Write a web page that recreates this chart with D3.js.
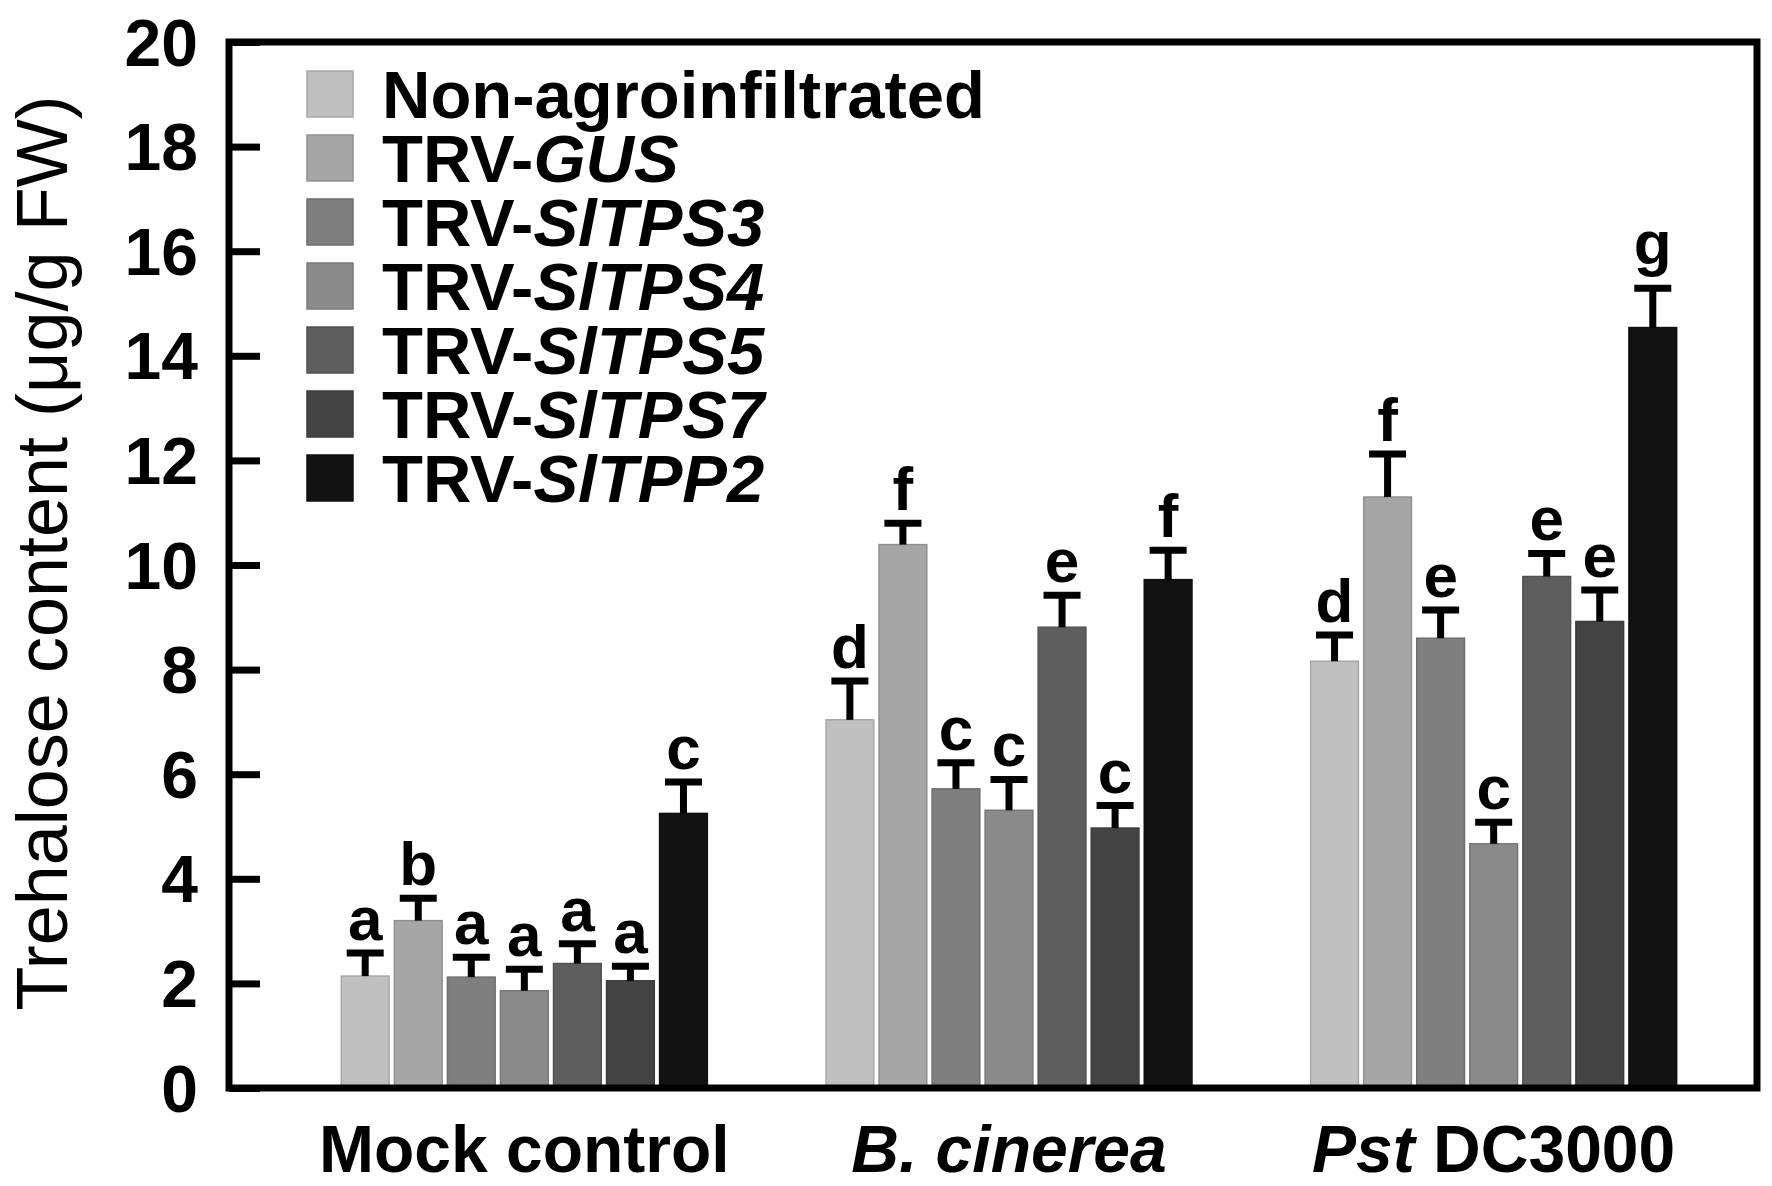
<!DOCTYPE html>
<html><head><meta charset="utf-8">
<script src="https://cdn.jsdelivr.net/npm/d3@7"></script>
<style>
html,body{margin:0;padding:0;background:#fff;}
svg{display:block;font-family:"Liberation Sans",Arial,sans-serif;}
</style></head>
<body>
<svg id="chart" width="1772" height="1186"></svg>
<script>
// ---- data ----
const groups = ["Mock control", "B. cinerea", "Pst DC3000"];
const seriesNames = ["Non-agroinfiltrated", "TRV-GUS", "TRV-SlTPS3", "TRV-SlTPS4", "TRV-SlTPS5", "TRV-SlTPS7", "TRV-SlTPP2"];
const seriesColors = ["#c0c0c0", "#a6a6a6", "#7f7f7f", "#8a8a8a", "#5e5e5e", "#444444", "#121212"];

const nonAgro = [2.14, 7.04, 8.16];
const trvGUS  = [3.20, 10.39, 11.30];
const trvTPS3 = [2.12, 5.72, 8.60];
const trvTPS4 = [1.86, 5.31, 4.67];
const trvTPS5 = [2.38, 8.81, 9.78];
const trvTPS7 = [2.05, 4.97, 8.92];
const trvTPP2 = [5.25, 9.72, 14.54];

const seNonAgro = [0.44, 0.74, 0.50];
const seGUS     = [0.43, 0.41, 0.82];
const seTPS3    = [0.38, 0.50, 0.54];
const seTPS4    = [0.41, 0.59, 0.41];
const seTPS5    = [0.38, 0.61, 0.44];
const seTPS7    = [0.28, 0.43, 0.60];
const seTPP2    = [0.60, 0.56, 0.75];

const letNonAgro = ["a", "d", "d"];
const letGUS     = ["b", "f", "f"];
const letTPS3    = ["a", "c", "e"];
const letTPS4    = ["a", "c", "c"];
const letTPS5    = ["a", "e", "e"];
const letTPS7    = ["a", "c", "e"];
const letTPP2    = ["c", "f", "g"];

const yTicks = [0, 2, 4, 6, 8, 10, 12, 14, 16, 18, 20];

const seriesValues = [nonAgro, trvGUS, trvTPS3, trvTPS4, trvTPS5, trvTPS7, trvTPP2];
const seriesSE = [seNonAgro, seGUS, seTPS3, seTPS4, seTPS5, seTPS7, seTPP2];
const seriesLetters = [letNonAgro, letGUS, letTPS3, letTPS4, letTPS5, letTPS7, letTPP2];

// legend labels: plain prefix + italic part
const legendParts = [["Non-agroinfiltrated", ""], ["TRV-", "GUS"], ["TRV-", "SlTPS3"], ["TRV-", "SlTPS4"], ["TRV-", "SlTPS5"], ["TRV-", "SlTPS7"], ["TRV-", "SlTPP2"]];
// x labels: italic part + plain part
const groupLabelParts = [["", "Mock control"], ["B. cinerea", ""], ["Pst", " DC3000"]];

// ---- layout ----
const L = 229, R = 1757, T = 42, B = 1088;
const svg = d3.select("#chart");
const FONT = '"Liberation Sans",Arial,sans-serif';

const y = d3.scaleLinear().domain([0, 20]).range([B, T]);
const x0 = d3.scaleBand().domain(groups).range([282, 1736]).paddingInner(0).paddingOuter(0);
const groupW = 366;
const x1 = d3.scaleBand().domain(seriesNames).range([0, groupW]).paddingInner(0.1).paddingOuter(0);

const data = [];
groups.forEach((g, gi) => {
  seriesNames.forEach((s, si) => {
    data.push({g, s, si, v: seriesValues[si][gi], se: seriesSE[si][gi], let: seriesLetters[si][gi]});
  });
});
const bx = d => x0(d.g) + x0.bandwidth() / 2 - groupW / 2 + x1(d.s);

// bars
svg.append("g").selectAll("rect").data(data).join("rect")
  .attr("x", d => bx(d))
  .attr("y", d => y(d.v))
  .attr("width", x1.bandwidth())
  .attr("height", d => y(0) - y(d.v))
  .attr("fill", d => seriesColors[d.si])
  .attr("stroke", d => d3.color(seriesColors[d.si]).darker(0.4))
  .attr("stroke-width", 1.5);

// error bars (upper only)
const eb = svg.append("g").attr("stroke", "#000").attr("stroke-width", 7);
const capW = 37;
eb.selectAll("line.stem").data(data).join("line").attr("class", "stem")
  .attr("x1", d => bx(d) + x1.bandwidth() / 2).attr("x2", d => bx(d) + x1.bandwidth() / 2)
  .attr("y1", d => y(d.v)).attr("y2", d => y(d.v + d.se));
eb.selectAll("line.cap").data(data).join("line").attr("class", "cap")
  .attr("x1", d => bx(d) + x1.bandwidth() / 2 - capW / 2).attr("x2", d => bx(d) + x1.bandwidth() / 2 + capW / 2)
  .attr("y1", d => y(d.v + d.se)).attr("y2", d => y(d.v + d.se));

// significance letters
svg.append("g").selectAll("text").data(data).join("text")
  .attr("x", d => bx(d) + x1.bandwidth() / 2)
  .attr("y", d => y(d.v + d.se) - (d.let === "g" ? 24 : 13))
  .attr("text-anchor", "middle")
  .attr("font-family", FONT).attr("font-weight", "bold").attr("font-size", 62)
  .text(d => d.let);

// y axis (inward ticks)
const yAxis = d3.axisLeft(y).tickValues(yTicks).tickSize(-31).tickPadding(31).tickFormat(d3.format("d"));
const ga = svg.append("g").attr("transform", `translate(${L},0)`).call(yAxis);
ga.select(".domain").remove();
ga.selectAll(".tick line").attr("stroke", "#000").attr("stroke-width", 7);
ga.selectAll(".tick text").attr("font-family", FONT).attr("font-weight", "bold").attr("font-size", 66).attr("fill", "#000").attr("dy", "0.35em");

// frame
svg.append("rect").attr("x", L).attr("y", T).attr("width", R - L).attr("height", B - T)
  .attr("fill", "none").attr("stroke", "#000").attr("stroke-width", 7);

// y title
svg.append("text")
  .attr("transform", `translate(67,${553}) rotate(-90)`)
  .attr("text-anchor", "middle")
  .attr("font-family", FONT).attr("font-size", 72)
  .text("Trehalose content (μg/g FW)");

// x labels
const xl = svg.append("g").selectAll("text").data(groups).join("text")
  .attr("x", d => x0(d) + x0.bandwidth() / 2)
  .attr("y", 1172)
  .attr("text-anchor", "middle")
  .attr("font-family", FONT).attr("font-weight", "bold").attr("font-size", 66);
xl.each(function (d, i) {
  const t = d3.select(this);
  const [it, pl] = groupLabelParts[i];
  if (it) t.append("tspan").attr("font-style", "italic").text(it);
  if (pl) t.append("tspan").text(pl);
});

// legend
const lg = svg.append("g");
const legY0 = 94, legStep = 64;
seriesNames.forEach((s, i) => {
  const cy = legY0 + i * legStep;
  lg.append("rect").attr("x", 307).attr("y", cy - 23).attr("width", 46).attr("height", 46)
    .attr("fill", seriesColors[i]).attr("stroke", d3.color(seriesColors[i]).darker(0.4)).attr("stroke-width", 1.5);
  const t = lg.append("text").attr("x", 382).attr("y", cy + 24)
    .attr("font-family", FONT).attr("font-weight", "bold").attr("font-size", 67);
  t.append("tspan").text(legendParts[i][0]);
  if (legendParts[i][1]) t.append("tspan").attr("font-style", "italic").text(legendParts[i][1]);
});
</script>
</body></html>
